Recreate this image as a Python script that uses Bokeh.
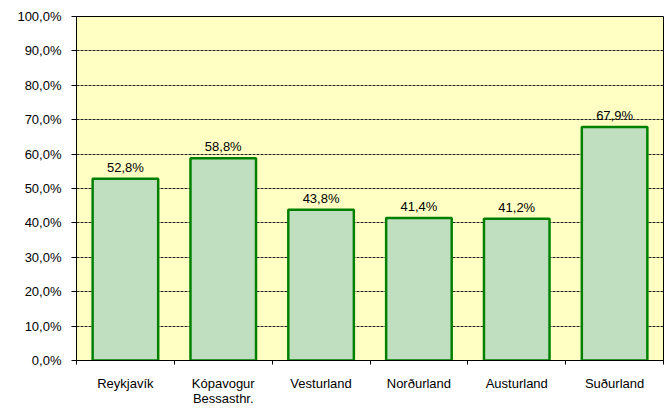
from bokeh.plotting import figure
from bokeh.models import ColumnDataSource, FixedTicker, LabelSet, Range1d
from bokeh.core.properties import value
from bokeh.embed import file_html
from bokeh.resources import INLINE

categories = ["Reykjavík", "Kópavogur\nBessasthr.", "Vesturland", "Norðurland", "Austurland", "Suðurland"]
values = [52.8, 58.8, 43.8, 41.4, 41.2, 67.9]
y_ticks = [0, 10, 20, 30, 40, 50, 60, 70, 80, 90, 100]

FONT = "Liberation Sans"

n = len(categories)
xpos = [i + 0.5 for i in range(n)]
src = ColumnDataSource(dict(
    x=xpos,
    top=values,
    lab=[("%.1f%%" % v).replace(".", ",") for v in values],
))

p = figure(width=664, height=409, output_backend="svg", toolbar_location=None,
           x_range=Range1d(0, n), y_range=Range1d(0, 100),
           min_border_left=76, min_border_right=1, min_border_top=16, min_border_bottom=49)
p.background_fill_color = "#FFFFC4"
p.border_fill_color = "white"
p.outline_line_color = "black"
p.outline_line_width = 1

p.vbar(x="x", top="top", bottom=0, width=0.67, source=src,
       fill_color="#C0DFC0", line_color="#008000", line_width=2.5)

# value labels
p.add_layout(LabelSet(x="x", y="top", text="lab", source=src, y_offset=4,
                      text_align="center", text_baseline="bottom",
                      text_font=value(FONT), text_font_size="13px", text_color="black"))

# x axis: labels at category centres, tick marks at category boundaries
p.xaxis.ticker = FixedTicker(ticks=xpos, minor_ticks=list(range(n + 1)))
p.xaxis.major_label_overrides = {x: c for x, c in zip(xpos, categories)}
p.xaxis.major_label_text_font = FONT
p.xaxis.major_label_text_font_size = "13px"
p.xaxis.major_label_text_color = "black"
p.xaxis.major_label_text_line_height = 1.05
p.xaxis.major_label_standoff = 11
p.xaxis.major_tick_out = 0
p.xaxis.major_tick_in = 0
p.xaxis.major_tick_line_color = None
p.xaxis.minor_tick_out = 4
p.xaxis.minor_tick_in = 0
p.xaxis.minor_tick_line_color = "black"
p.xaxis.axis_line_color = "black"
p.xgrid.grid_line_color = None

# y axis
p.yaxis.ticker = FixedTicker(ticks=y_ticks)
p.yaxis.major_label_overrides = {t: ("%.1f%%" % t).replace(".", ",") for t in y_ticks}
p.yaxis.major_label_text_font = FONT
p.yaxis.major_label_text_font_size = "13px"
p.yaxis.major_label_text_color = "black"
p.yaxis.major_label_standoff = 10
p.yaxis.major_tick_out = 5
p.yaxis.major_tick_in = 0
p.yaxis.minor_tick_line_color = None
p.yaxis.axis_line_color = "black"
p.yaxis.major_tick_line_color = "black"
p.ygrid.grid_line_color = "#222222"
p.ygrid.grid_line_dash = "3 1"
p.ygrid.grid_line_width = 1

open("out.html", "w").write(file_html(p, INLINE))
